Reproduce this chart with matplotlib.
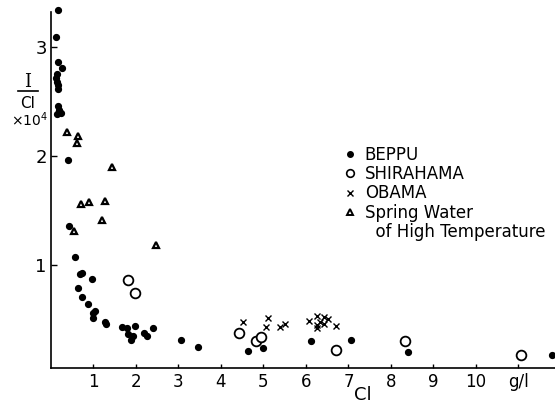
import matplotlib
matplotlib.use("Agg")
import matplotlib.pyplot as plt
from matplotlib.lines import Line2D

# BEPPU (filled dots)
beppu_x = [0.16, 0.12, 0.17, 0.25, 0.13, 0.12, 0.15, 0.17, 0.16, 0.16, 0.19, 0.23, 0.15,
           0.39, 0.42, 0.57, 0.68, 0.73, 0.97, 0.64, 0.74, 0.87, 1.03, 1.00, 1.00, 1.28,
           1.29, 1.68, 1.80, 1.82, 1.97, 1.93, 1.88, 2.19, 2.27, 2.40, 3.07, 3.45, 4.64,
           4.98, 6.13, 7.07, 8.39, 11.78]
beppu_y = [3.34, 3.09, 2.86, 2.80, 2.75, 2.71, 2.68, 2.65, 2.61, 2.46, 2.42, 2.39, 2.38,
           1.96, 1.36, 1.07, 0.92, 0.93, 0.87, 0.79, 0.71, 0.64, 0.58, 0.56, 0.51, 0.48,
           0.46, 0.43, 0.42, 0.37, 0.44, 0.35, 0.31, 0.38, 0.35, 0.42, 0.31, 0.25, 0.21,
           0.24, 0.30, 0.31, 0.20, 0.17]

# SHIRAHAMA (open circles)
shira_x = [1.82, 1.97, 4.43, 4.82, 4.93, 6.70, 8.33, 11.07]
shira_y = [0.86, 0.74, 0.38, 0.30, 0.34, 0.22, 0.30, 0.17]

# OBAMA (crosses)
obama_x = [4.52, 5.11, 5.07, 5.39, 5.51, 6.06, 6.27, 6.42, 6.34, 6.53, 6.27, 6.42, 6.27, 6.70]
obama_y = [0.48, 0.51, 0.43, 0.43, 0.46, 0.49, 0.53, 0.52, 0.48, 0.50, 0.45, 0.46, 0.42, 0.44]

# Spring water of high temperature (open triangles)
spring_x = [0.38, 0.63, 0.61, 1.43, 0.71, 0.89, 1.27, 1.21, 0.53, 2.46]
spring_y = [2.22, 2.18, 2.12, 1.90, 1.56, 1.58, 1.59, 1.41, 1.31, 1.18]

xticks = [1, 2, 3, 4, 5, 6, 7, 8, 9, 10, 11]
xtick_labels = ["1", "2", "3", "4", "5", "6", "7", "8", "9", "10", "g/l"]
yticks = [1, 2, 3]
ytick_labels = ["1", "2", "3"]

W, H = 555, 407
fig = plt.figure(figsize=(W / 100, H / 100), dpi=100)
ax = fig.add_axes([51 / W, (H - 367.5) / H, (W - 51) / W, (367.5 - 11.7) / H])

ax.plot(beppu_x, beppu_y, "o", color="black", ms=4.2, clip_on=False)
ax.plot(shira_x, shira_y, "o", mfc="white", mec="black", mew=1.3, ms=7, clip_on=False)
ax.plot(obama_x, obama_y, "x", color="black", mew=1.0, ms=4, clip_on=False)
ax.plot(spring_x, spring_y, "^", mfc="white", mec="black", mew=1.6, ms=5, clip_on=False)

ax.set_xlim(0, 11.86)
ax.set_ylim(0.06, 3.32)
ax.spines["top"].set_visible(False)
ax.spines["right"].set_visible(False)
ax.spines["left"].set_linewidth(1.2)
ax.spines["bottom"].set_linewidth(1.2)

ax.set_xticks(xticks)
ax.set_xticklabels(xtick_labels, fontsize=12)
ax.set_yticks(yticks)
ax.set_yticklabels(ytick_labels, fontsize=13)
ax.tick_params(axis="x", direction="in", length=3, width=1, pad=4)
ax.tick_params(axis="y", direction="in", length=4, width=1, pad=3)

# axis labels
fig.text(363 / W, 1 - 395 / H, "Cl", fontsize=13, ha="center", va="center")
fig.text(28 / W, 1 - 82 / H, "I", fontsize=13, family="DejaVu Serif", ha="center", va="center")
fig.add_artist(Line2D([18 / W, 38 / W], [1 - 91 / H, 1 - 91 / H], color="black", lw=1.2))
fig.text(28 / W, 1 - 103 / H, "Cl", fontsize=11, ha="center", va="center")
fig.text(29 / W, 1 - 120 / H, r"×10$^4$", fontsize=10, ha="center", va="center")

# legend
handles = [
    Line2D([], [], ls="none", marker="o", color="black", ms=4),
    Line2D([], [], ls="none", marker="o", mfc="white", mec="black", mew=1.2, ms=5.5),
    Line2D([], [], ls="none", marker="x", color="black", mew=1.0, ms=4),
    Line2D([], [], ls="none", marker="^", mfc="white", mec="black", mew=1.4, ms=5),
    Line2D([], [], ls="none"),
]
labels = ["BEPPU", "SHIRAHAMA", "OBAMA", "Spring Water", "  of High Temperature"]
ax.legend(handles, labels, loc="upper left", bbox_to_anchor=(343 / W, 1 - 146 / H),
          bbox_transform=fig.transFigure, frameon=False, fontsize=12,
          handlelength=0.8, handletextpad=0.5, borderpad=0, borderaxespad=0,
          labelspacing=0.07)

fig.savefig("out.png", dpi=100)
